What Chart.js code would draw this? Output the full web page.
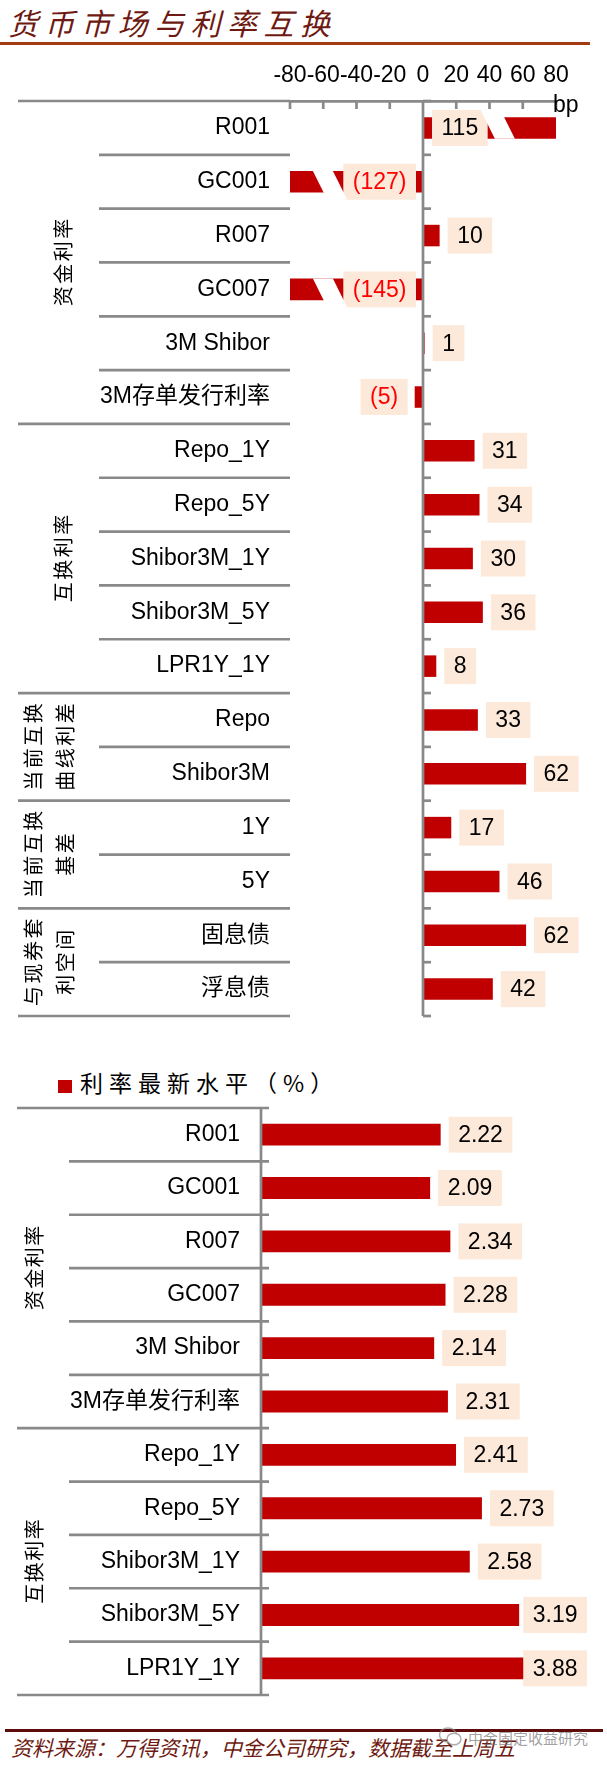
<!DOCTYPE html>
<html>
<head>
<meta charset="utf-8">
<script src="https://cdn.jsdelivr.net/npm/chart.js@4.4.1/dist/chart.umd.min.js"></script>
<style>
  body { margin: 0; background: #fff; width: 607px; height: 1766px; position: relative; overflow: hidden; }
  .abs { position: absolute; white-space: nowrap; }
  #title { left: 8px; top: 7px; font: italic 30px/30px "Noto Sans CJK SC"; letter-spacing: 6.5px; color: #6e1a12; }
  #titleLine { left: 0; top: 42px; width: 590px; height: 3px; background: #a23a12; }
  #legend { left: 58px; top: 1068px; font: 23px/28px "Noto Sans CJK SC"; letter-spacing: 6px; color: #000; }
  #legend i { display: inline-block; width: 14px; height: 13px; background: #c00000; margin-right: 8px; vertical-align: -1px; }
  #footLine { left: 5px; top: 1729px; width: 598px; height: 3px; background: #5e0b0b; }
  #foot { left: 11px; top: 1737px; font: italic 21px/21px "Noto Sans CJK SC"; color: #6e1a12; }
  #mark { left: 468px; top: 1730px; font: 15px/16px "Noto Sans CJK SC"; color: rgba(120,120,120,0.7); }
  #icon { left: 438px; top: 1726px; }
</style>
</head>
<body>
<div id="title" class="abs">货币市场与利率互换</div>
<div id="titleLine" class="abs"></div>
<canvas id="changeChart" class="abs" style="left:0;top:50px" width="607" height="990"></canvas>
<div id="legend" class="abs"><i></i>利率最新水平（%）</div>
<canvas id="levelChart" class="abs" style="left:0;top:1100px" width="607" height="620"></canvas>
<div id="footLine" class="abs"></div>
<div id="foot" class="abs">资料来源：万得资讯，中金公司研究，数据截至上周五</div>
<svg id="icon" class="abs" width="26" height="22" viewBox="0 0 26 22">
  <ellipse cx="10" cy="9" rx="8.5" ry="7" fill="none" stroke="rgba(140,140,140,0.7)" stroke-width="1.5"/>
  <ellipse cx="16" cy="13" rx="7" ry="5.8" fill="#fff" stroke="rgba(140,140,140,0.7)" stroke-width="1.5"/>
</svg>
<div id="mark" class="abs">中金固定收益研究</div>

<script>
// 基点变动（上图）
const changeCats = ['R001', 'GC001', 'R007', 'GC007', '3M Shibor', '3M存单发行利率',
  'Repo_1Y', 'Repo_5Y', 'Shibor3M_1Y', 'Shibor3M_5Y', 'LPR1Y_1Y',
  'Repo', 'Shibor3M', '1Y', '5Y', '固息债', '浮息债'];
const changeBp = [115, -127, 10, -145, 1, -5, 31, 34, 30, 36, 8, 33, 62, 17, 46, 62, 42];
const changeTicks = [-80, -60, -40, -20, 0, 20, 40, 60, 80];
const changeGroups = [['资金利率'], ['互换利率'], ['当前互换', '曲线利差'], ['当前互换', '基差'], ['与现券套', '利空间']];
const changeGroupEnds = [5, 10, 12, 14, 16];

// 利率最新水平（下图）
const levelCats = ['R001', 'GC001', 'R007', 'GC007', '3M Shibor', '3M存单发行利率',
  'Repo_1Y', 'Repo_5Y', 'Shibor3M_1Y', 'Shibor3M_5Y', 'LPR1Y_1Y'];
const levelPct = [2.22, 2.09, 2.34, 2.28, 2.14, 2.31, 2.41, 2.73, 2.58, 3.19, 3.88];
const levelGroups = [['资金利率'], ['互换利率']];
const levelGroupEnds = [5, 10];

const RED = '#c00000';
const GRID = '#898989';
const PEACH = '#fde9d9';
const LATIN = '"Liberation Sans", "Noto Sans CJK SC", sans-serif';
const CJK = '"Noto Sans CJK SC", sans-serif';

function line(ctx, x0, y0, x1, y1) {
  ctx.beginPath();
  ctx.moveTo(x0, y0);
  ctx.lineTo(x1, y1);
  ctx.stroke();
}

// 左侧表格线、分组标签、零轴
const tablePlugin = {
  id: 'table',
  afterDatasetsDraw(chart, args, o) {
    const { ctx, chartArea: a, scales: { x, y } } = chart;
    const n = chart.data.labels.length;
    const step = y.getPixelForValue(1) - y.getPixelForValue(0);
    const zero = x.getPixelForValue(0);
    ctx.save();
    ctx.strokeStyle = GRID;
    ctx.lineWidth = 2.7;

    for (let i = 0; i <= n; i++) {
      const py = y.getPixelForValue(i) - step / 2;
      const isGroup = i === 0 || o.groupEnds.includes(i - 1);
      line(ctx, isGroup ? o.groupLeft : o.innerLeft, py, a.left + o.lineOver, py);
      if (o.zeroTick) line(ctx, zero, py, zero + o.zeroTick, py);
    }
    line(ctx, zero, a.top, zero, a.bottom);

    if (o.topTicks) {
      x.ticks.forEach(t => {
        if (t.value !== 0) {
          const px = x.getPixelForValue(t.value);
          line(ctx, px, a.top, px, a.top + 8);
        }
      });
    }
    if (o.unit) {
      ctx.fillStyle = '#000';
      ctx.font = '23px ' + LATIN;
      ctx.textAlign = 'left';
      ctx.textBaseline = 'alphabetic';
      ctx.fillText(o.unit, a.right - 3, a.top + 11);
    }

    // 分组竖排文字
    ctx.fillStyle = '#000';
    ctx.font = '20px ' + CJK;
    ctx.textAlign = 'center';
    ctx.textBaseline = 'middle';
    let start = 0;
    o.groups.forEach((lines, g) => {
      const end = o.groupEnds[g];
      const cy = (y.getPixelForValue(start) + y.getPixelForValue(end)) / 2;
      const cols = lines.length === 1 ? [o.singleX] : o.doubleX;
      lines.forEach((txt, k) => {
        ctx.save();
        ctx.translate(cols[k], cy);
        ctx.rotate(-Math.PI / 2);
        const chars = [...txt];
        chars.forEach((ch, c) => {
          ctx.fillText(ch, (c - (chars.length - 1) / 2) * o.pitch, 0);
        });
        ctx.restore();
      });
      start = end + 1;
    });
    ctx.restore();
  }
};

// 数据标签（浅色底框）与截断符号
const boxPlugin = {
  id: 'boxes',
  afterDatasetsDraw(chart, args, o) {
    const { ctx, chartArea: a, scales: { x } } = chart;
    const meta = chart.getDatasetMeta(0);
    const data = chart.data.datasets[0].data;
    const zero = x.getPixelForValue(0);
    ctx.save();
    ctx.font = '23px ' + LATIN;
    ctx.textAlign = 'center';
    ctx.textBaseline = 'middle';
    meta.data.forEach((el, i) => {
      const v = data[i];
      const end = Math.max(a.left, Math.min(a.right, el.x));
      const broken = o.breaks && (v > x.max || v < x.min);
      const txt = v < 0 ? '(' + Math.abs(v) + ')' : o.format(v);
      const w = ctx.measureText(txt).width + 19;
      let left;
      if (v >= 0) {
        left = broken ? zero + 9 : Math.min(end + 8, o.maxRight - w);
      } else {
        left = (broken ? zero - 7 : end - 7) - w;
      }
      ctx.fillStyle = PEACH;
      ctx.fillRect(left, el.y - 18, w, 36);
      ctx.fillStyle = v < 0 ? '#ff0000' : '#000';
      ctx.fillText(txt, left + w / 2, el.y + 1);

      if (broken) {
        const h = el.height;
        const yt = v > 0 ? el.y - h / 2 - 7 : el.y - h / 2;
        const yb = v > 0 ? el.y + h / 2 : el.y + h / 2 + 7;
        const xm = x.getPixelForValue(v > 0 ? o.breaks[0] : o.breaks[1]);
        const xl = py => xm + (py - el.y) * 0.5;
        ctx.fillStyle = '#fff';
        ctx.beginPath();
        ctx.moveTo(xl(yt), yt);
        ctx.lineTo(xl(yt) + 20, yt);
        ctx.lineTo(xl(yb) + 20, yb);
        ctx.lineTo(xl(yb), yb);
        ctx.closePath();
        ctx.fill();
      }
    });
    ctx.restore();
  }
};

const tickFont = { size: 23, family: LATIN };

// 类别轴宽度固定，并取消标签带来的上下留白
function fixY(width) {
  return s => {
    s.width = width;
    s.paddingTop = 0;
    s.paddingBottom = 0;
  };
}

new Chart(document.getElementById('changeChart'), {
  type: 'bar',
  data: {
    labels: changeCats,
    datasets: [{ data: changeBp, backgroundColor: RED, barPercentage: 0.4, categoryPercentage: 1 }]
  },
  options: {
    indexAxis: 'y',
    responsive: false,
    animation: false,
    layout: { padding: { left: 0, right: 51, top: 0, bottom: 24 } },
    plugins: {
      legend: { display: false },
      tooltip: { enabled: false },
      table: {
        groups: changeGroups, groupEnds: changeGroupEnds,
        groupLeft: 18, innerLeft: 99, lineOver: 0, zeroTick: 8,
        topTicks: true, unit: 'bp', singleX: 63, doubleX: [33, 65], pitch: 22.5
      },
      boxes: { format: v => String(v), maxRight: 600, breaks: [40, -63] }
    },
    scales: {
      x: {
        position: 'top', min: -80, max: 80,
        afterBuildTicks: s => { s.ticks = changeTicks.map(v => ({ value: v })); },
        afterFit: s => { s.height = 51; s.paddingLeft = 0; s.paddingRight = 0; },
        grid: { display: false, drawTicks: false },
        border: { display: true, color: GRID, width: 2.7 },
        ticks: { padding: 12, font: tickFont, color: '#000', autoSkip: false, maxRotation: 0, minRotation: 0 }
      },
      y: {
        afterFit: fixY(290),
        grid: { display: false, drawTicks: false },
        border: { display: false },
        ticks: { padding: 20, font: tickFont, color: '#000', autoSkip: false }
      }
    }
  },
  plugins: [tablePlugin, boxPlugin]
});

new Chart(document.getElementById('levelChart'), {
  type: 'bar',
  data: {
    labels: levelCats,
    datasets: [{ data: levelPct, backgroundColor: RED, barPercentage: 0.41, categoryPercentage: 1 }]
  },
  options: {
    indexAxis: 'y',
    responsive: false,
    animation: false,
    layout: { padding: { left: 0, right: 83, top: 8, bottom: 25 } },
    plugins: {
      legend: { display: false },
      tooltip: { enabled: false },
      table: {
        groups: levelGroups, groupEnds: levelGroupEnds,
        groupLeft: 17, innerLeft: 69, lineOver: 8, zeroTick: 0,
        topTicks: false, unit: '', singleX: 34, doubleX: [34, 60], pitch: 21.5
      },
      boxes: { format: v => v.toFixed(2), maxRight: 587, breaks: null }
    },
    scales: {
      x: { display: false, min: 0, max: 3.25 },
      y: {
        afterFit: fixY(261),
        grid: { display: false, drawTicks: false },
        border: { display: false },
        ticks: { padding: 21, font: tickFont, color: '#000', autoSkip: false }
      }
    }
  },
  plugins: [tablePlugin, boxPlugin]
});
</script>
</body>
</html>
